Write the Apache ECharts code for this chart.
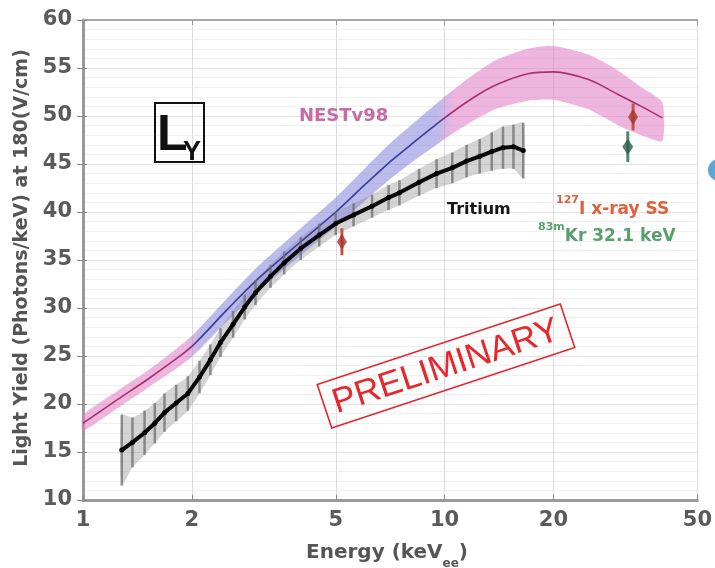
<!DOCTYPE html>
<html><head><meta charset="utf-8">
<script src="https://cdn.jsdelivr.net/npm/echarts@6/dist/echarts.min.js"></script>
<style>html,body{margin:0;padding:0;background:#fff}#c{width:715px;height:568px}</style>
</head><body><div id="c"></div>
<script>
// ---- data ----
const xTickLabels = [1, 2, 5, 10, 20, 50];
const nestEnergy = [1, 1.25, 1.5, 1.75, 2, 2.5, 3, 4, 5, 6, 7, 8, 10, 12, 14, 17, 20, 25, 30, 35, 40];
const nestMean   = [18.0, 20.5, 22.5, 24.3, 26.0, 29.8, 32.8, 36.9, 40.0, 42.8, 45.1, 46.9, 49.8, 51.9, 53.3, 54.4, 54.6, 53.8, 52.3, 51.0, 49.8];
const nestLow    = [17.2, 19.6, 21.6, 23.3, 24.9, 28.6, 31.5, 35.5, 38.5, 41.1, 43.3, 45.0, 47.6, 49.5, 50.8, 51.6, 51.7, 50.7, 49.1, 48.0, 47.4];
const nestHigh   = [18.8, 21.4, 23.4, 25.3, 27.1, 31.0, 34.1, 38.3, 41.5, 44.5, 47.0, 48.9, 52.0, 54.3, 55.9, 57.0, 57.3, 56.4, 54.8, 53.0, 51.4];
const tritiumEnergy = [1.28, 1.37, 1.48, 1.58, 1.68, 1.81, 1.95, 2.1, 2.25, 2.4, 2.6, 2.8, 3.0, 3.3, 3.6, 4.0, 4.5, 5.0, 5.6, 6.3, 7.0, 7.5, 8.5, 9.5, 10.5, 11.5, 12.5, 13.5, 14.5, 15.5, 16.5];
const tritiumYield  = [15.2, 16.0, 17.0, 18.0, 19.1, 20.1, 21.1, 22.8, 24.6, 26.4, 28.3, 30.1, 31.6, 33.3, 34.7, 36.2, 37.6, 38.8, 39.7, 40.6, 41.5, 42.0, 43.1, 44.0, 44.6, 45.3, 45.8, 46.3, 46.7, 46.8, 46.4];
const tritiumErr    = [3.7, 2.6, 2.3, 2.1, 2.0, 1.9, 1.8, 1.7, 1.6, 1.5, 1.4, 1.3, 1.3, 1.2, 1.2, 1.2, 1.2, 1.2, 1.2, 1.2, 1.3, 1.3, 1.4, 1.5, 1.6, 1.7, 1.8, 2.0, 2.2, 2.3, 2.9];
const iodineEnergy = [5.2, 33.2];
const iodineYield  = [36.9, 49.9];
const iodineErr    = [1.4, 1.4];
const kryptonEnergy = [32.1];
const kryptonYield  = [46.8];
const kryptonErr    = [1.6];

// ---- helpers ----
const lg = Math.log10;
const xMin = lg(xTickLabels[0]), xMax = lg(xTickLabels[xTickLabels.length - 1]);
const PINK = 'rgba(224,120,196,0.55)', BLUE = 'rgba(130,130,220,0.55)';
const nestSpan = lg(nestEnergy[nestEnergy.length - 1]) - lg(nestEnergy[0]);
const tAt = e => (lg(e) - lg(nestEnergy[0])) / nestSpan;
function twoTone(pink, blue) {
  return {type: 'linear', x: 0, y: 0, x2: 1, y2: 0, colorStops: [
    {offset: 0, color: pink}, {offset: tAt(1.92), color: pink},
    {offset: tAt(2.15), color: blue}, {offset: tAt(9.4), color: blue},
    {offset: tAt(10.6), color: pink}, {offset: 1, color: pink}]};
}
function bandRender(energies, low, high, fill) {
  return function (params, api) {
    const pts = [];
    for (let i = 0; i < energies.length; i++) pts.push(api.coord([lg(energies[i]), high[i]]));
    for (let i = energies.length - 1; i >= 0; i--) pts.push(api.coord([lg(energies[i]), low[i]]));
    return {type: 'polygon', shape: {points: pts, smooth: 0.2}, style: {fill: fill, stroke: null}};
  };
}
function errRender(color, width) {
  return function (params, api) {
    const a = api.coord([api.value(0), api.value(1)]);
    const b = api.coord([api.value(0), api.value(2)]);
    return {type: 'line', shape: {x1: a[0], y1: a[1], x2: b[0], y2: b[1]}, style: {stroke: color, lineWidth: width}};
  };
}
const errData = (E, Y, Er) => E.map((e, i) => [lg(e), Y[i] - Er[i], Y[i] + Er[i]]);
const labelFont = {fontFamily: 'DejaVu Sans', fontWeight: 'bold', fontSize: 21, color: '#5a5a5a'};

// PRELIMINARY stamp frame (page pixels, rotated)
const stamp = {cx: 446, cy: 366, w: 256, h: 46, ang: 0.32};
function stampPoints() {
  const c = Math.cos(stamp.ang), s = Math.sin(stamp.ang);
  return [[-1, -1], [1, -1], [1, 1], [-1, 1]].map(([u, v]) => {
    const dx = u * stamp.w / 2, dy = v * stamp.h / 2;
    return [stamp.cx + dx * c + dy * s, stamp.cy - dx * s + dy * c];
  });
}

const chart = echarts.init(document.getElementById('c'), null, {renderer: 'canvas'});
chart.setOption({
  animation: false,
  backgroundColor: '#fff',
  grid: {left: 83, right: 15, top: 20, bottom: 68},
  xAxis: [{
    type: 'value', min: xMin, max: xMax, position: 'bottom',
    axisLine: {lineStyle: {color: '#9a9a9a', width: 3}},
    axisTick: {inside: true, length: 5, lineStyle: {color: '#888'}, customValues: xTickLabels.map(lg)},
    axisLabel: Object.assign({margin: 10, customValues: xTickLabels.map(lg),
      formatter: v => String(Math.round(Math.pow(10, v)))}, labelFont),
    splitLine: {show: true, lineStyle: {color: '#dcdcdc', width: 1}}
  }, {
    type: 'value', min: xMin, max: xMax, position: 'top',
    axisLine: {lineStyle: {color: '#a8a8a8', width: 2}},
    axisTick: {inside: true, length: 5, lineStyle: {color: '#999'}, customValues: xTickLabels.map(lg)},
    axisLabel: {show: false}, splitLine: {show: false}
  }],
  yAxis: [{
    type: 'value', min: 10, max: 60, interval: 5, position: 'left',
    axisLine: {show: true, lineStyle: {color: '#9a9a9a', width: 3}},
    axisTick: {show: true, inside: true, length: 4, lineStyle: {color: '#888'}},
    axisLabel: Object.assign({margin: 11}, labelFont),
    splitLine: {show: true, lineStyle: {color: '#e2e2e2'}},
    minorTick: {show: false, splitNumber: 5},
    minorSplitLine: {show: true, lineStyle: {color: '#f0f0f0'}}
  }, {
    type: 'value', min: 10, max: 60, interval: 5, position: 'right',
    axisLine: {show: true, lineStyle: {color: '#9a9a9a', width: 2.5}},
    axisTick: {show: true, inside: true, length: 6, lineStyle: {color: '#888'}},
    axisLabel: {show: false}, splitLine: {show: false}
  }],
  series: [
    {type: 'custom', name: 'Tritium band', data: [[lg(tritiumEnergy[0]), tritiumYield[0]]], z: 2,
     renderItem: bandRender(tritiumEnergy, tritiumYield.map((v, i) => v - tritiumErr[i]),
       tritiumYield.map((v, i) => v + tritiumErr[i]), 'rgba(160,160,160,0.45)')},
    {type: 'custom', name: 'NEST band', data: [[lg(nestEnergy[0]), nestMean[0]]], z: 3,
     renderItem: bandRender(nestEnergy, nestLow, nestHigh, twoTone(PINK, BLUE))},
    {type: 'line', name: 'NESTv98', data: nestEnergy.map((e, i) => [lg(e), nestMean[i]]), z: 4,
     smooth: 0.3, showSymbol: false,
     lineStyle: {width: 1.6, color: twoTone('#a8306e', '#3c3c96')}},
    {type: 'custom', name: 'Tritium err', data: errData(tritiumEnergy, tritiumYield, tritiumErr), z: 5,
     encode: {x: 0, y: [1, 2]}, renderItem: errRender('rgba(110,110,110,0.75)', 2.5)},
    {type: 'line', name: 'Tritium', data: tritiumEnergy.map((e, i) => [lg(e), tritiumYield[i]]), z: 6,
     symbol: 'circle', symbolSize: 5, showSymbol: true,
     lineStyle: {color: '#0a0a0a', width: 4}, itemStyle: {color: '#000'}},
    {type: 'custom', name: 'I err', data: errData(iodineEnergy, iodineYield, iodineErr), z: 7,
     encode: {x: 0, y: [1, 2]}, renderItem: errRender('#c2553c', 3)},
    {type: 'scatter', name: '127I x-ray SS', data: iodineEnergy.map((e, i) => [lg(e), iodineYield[i]]), z: 8,
     symbol: 'diamond', symbolSize: [10, 16], itemStyle: {color: '#a8352a'}},
    {type: 'custom', name: 'Kr err', data: errData(kryptonEnergy, kryptonYield, kryptonErr), z: 7,
     encode: {x: 0, y: [1, 2]}, renderItem: errRender('#4f8a66', 3)},
    {type: 'scatter', name: '83mKr 32.1 keV', data: kryptonEnergy.map((e, i) => [lg(e), kryptonYield[i]]), z: 8,
     symbol: 'diamond', symbolSize: [11, 16], itemStyle: {color: '#2c5e45'}}
  ],
  graphic: [
    {type: 'text', x: 22, y: 258, rotation: Math.PI / 2, z: 100,
     style: {text: 'Light Yield (Photons/keV) at 180(V/cm)', fontFamily: 'DejaVu Sans', fontWeight: 'bold',
       fontSize: 19, fill: '#555', align: 'center', verticalAlign: 'middle'}},
    {type: 'text', x: 387, y: 553, z: 100,
     style: {text: '{a|Energy (keV}{s|ee}{a|)}', align: 'center', verticalAlign: 'middle',
       rich: {a: {fontFamily: 'DejaVu Sans', fontWeight: 'bold', fontSize: 20, lineHeight: 34, fill: '#555'},
              s: {fontFamily: 'DejaVu Sans', fontWeight: 'bold', fontSize: 12, lineHeight: 14, verticalAlign: 'bottom', fill: '#555'}}}},
    {type: 'rect', shape: {x: 155, y: 103, width: 49, height: 59}, z: 100,
     style: {fill: 'rgba(255,255,255,0)', stroke: '#111', lineWidth: 2}},
    {type: 'text', x: 157, y: 136, z: 101,
     style: {text: 'L', fontFamily: 'Liberation Sans', fontWeight: 'bold', fontSize: 50, fill: '#111', align: 'left', verticalAlign: 'middle'}},
    {type: 'text', x: 192, y: 153, z: 101,
     style: {text: 'Y', fontFamily: 'Liberation Sans', fontWeight: 'bold', fontSize: 27, fill: '#111', align: 'center', verticalAlign: 'middle'}},
    {type: 'text', x: 299, y: 116, z: 100,
     style: {text: 'NESTv98', fontFamily: 'DejaVu Sans', fontWeight: 'bold', fontSize: 18, fill: '#c76aa6', align: 'left', verticalAlign: 'middle'}},
    {type: 'text', x: 447, y: 210, z: 100,
     style: {text: 'Tritium', fontFamily: 'DejaVu Sans', fontWeight: 'bold', fontSize: 16, fill: '#151515', align: 'left', verticalAlign: 'middle'}},
    {type: 'text', x: 556, y: 210, z: 100,
     style: {text: '{s|127}{a|I x-ray SS}', align: 'left', verticalAlign: 'middle',
       rich: {a: {fontFamily: 'DejaVu Sans', fontWeight: 'bold', fontSize: 17, lineHeight: 30, fill: '#e0603c'},
              s: {fontFamily: 'DejaVu Sans', fontWeight: 'bold', fontSize: 11, lineHeight: 12, verticalAlign: 'top', fill: '#e0603c'}}}},
    {type: 'text', x: 538, y: 237, z: 100,
     style: {text: '{s|83m}{a|Kr 32.1 keV}', align: 'left', verticalAlign: 'middle',
       rich: {a: {fontFamily: 'DejaVu Sans', fontWeight: 'bold', fontSize: 17, lineHeight: 30, fill: '#5aa06e'},
              s: {fontFamily: 'DejaVu Sans', fontWeight: 'bold', fontSize: 11, lineHeight: 12, verticalAlign: 'top', fill: '#5aa06e'}}}},
    {type: 'polygon', shape: {points: stampPoints()}, z: 100,
     style: {fill: 'rgba(255,255,255,0)', stroke: '#e8262c', lineWidth: 1.6}},
    {type: 'text', x: stamp.cx, y: stamp.cy + 1, rotation: stamp.ang, z: 100,
     style: {text: 'PRELIMINARY', fontFamily: 'Liberation Sans', fontSize: 35, fill: '#e8262c', stroke: 'none', lineWidth: 0, align: 'center', verticalAlign: 'middle'}},
    {type: 'circle', shape: {cx: 719, cy: 170, r: 11}, z: 100, style: {fill: '#5aa7d8'}}
  ]
});
</script></body></html>
